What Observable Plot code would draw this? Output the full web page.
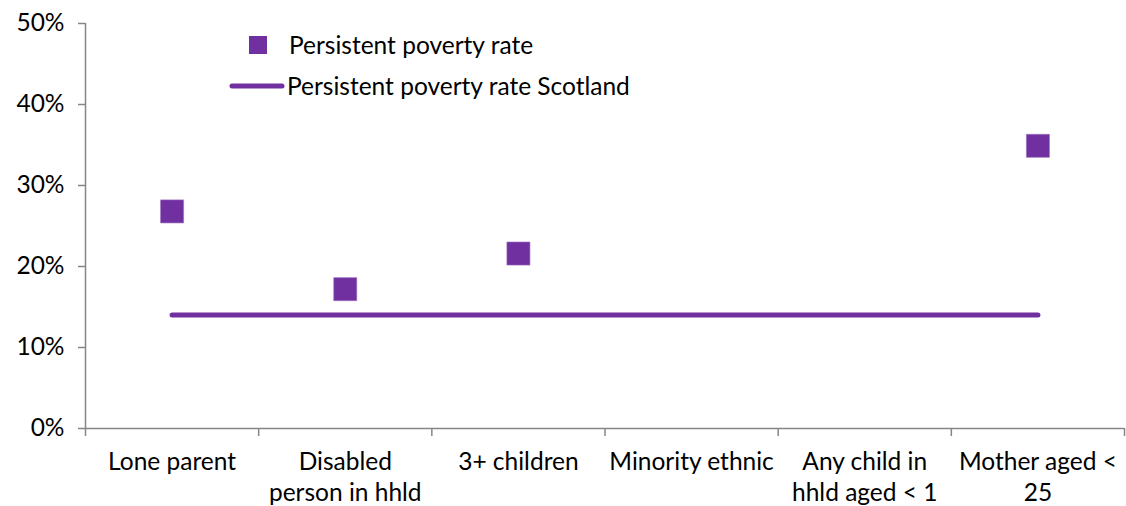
<!DOCTYPE html>
<html>
<head>
<meta charset="utf-8">
<script src="https://cdn.jsdelivr.net/npm/d3@7"></script>
<script src="https://cdn.jsdelivr.net/npm/@observablehq/plot@0.6"></script>
<style>
  html, body { margin: 0; padding: 0; background: #fff; }
  #wrap { position: relative; width: 1126px; height: 506px; font-family: Lato, "Open Sans", sans-serif; }
  #legend { position: absolute; left: 228px; top: 24px; font-size: 24.5px; color: #000; }
  .li { display: flex; align-items: center; height: 41px; }
  .li svg { display: block; }
</style>
</head>
<body>
<div id="wrap">
  <div id="legend"></div>
</div>
<script>
const categories = ["Lone parent", "Disabled\nperson in hhld", "3+ children", "Minority ethnic", "Any child in\nhhld aged < 1", "Mother aged <\n25"];
const rates = [0.268, 0.172, 0.216, null, null, 0.349];
const scotlandRate = [0.14, 0.14, 0.14, 0.14, 0.14, 0.14];
const yTicks = [0, 0.1, 0.2, 0.3, 0.4, 0.5];
const seriesNames = ["Persistent poverty rate", "Persistent poverty rate Scotland"];

const purple = "#7030A0";
const grey = "#868686";

const data = categories.map((c, i) => ({i, c, pos: i + 0.5, rate: rates[i], scot: scotlandRate[i]}));
const boundaries = d3.range(categories.length + 1);

const chart = Plot.plot({
  width: 1126,
  height: 506,
  marginLeft: 85,
  marginRight: 2,
  marginTop: 23,
  marginBottom: 78,
  style: {fontFamily: "Lato, 'Open Sans', sans-serif", fontSize: "24.5px", color: "#000", background: "#fff"},
  x: {domain: [0, categories.length], axis: null},
  y: {domain: [0, 0.5], axis: null},
  marks: [
    Plot.axisY({ticks: yTicks, tickFormat: d3.format(".0%"), tickSize: 7, tickPadding: 14, stroke: grey, strokeWidth: 1.5, color: "#000", fontSize: 24.5, label: null}),
    Plot.axisX({ticks: boundaries, tickSize: 8, tickFormat: () => "", stroke: grey, strokeWidth: 1.5, label: null}),
    Plot.axisX({ticks: data.map(d => d.pos), tickSize: 0, tickPadding: 20, tickFormat: p => categories[Math.floor(p)], lineHeight: 1.26, fontSize: 24.5, fill: "#000", label: null}),
    Plot.ruleX([0], {stroke: grey, strokeWidth: 1.5}),
    Plot.ruleY([0], {stroke: grey, strokeWidth: 1.5}),
    Plot.lineY(data, {x: "pos", y: "scot", stroke: purple, strokeWidth: 5, strokeLinecap: "round"}),
    Plot.dot(data.filter(d => d.rate != null), {x: "pos", y: "rate", symbol: "square", r: 13, fill: purple, stroke: "#9a6cc0", strokeWidth: 0.6})
  ]
});
document.getElementById("wrap").prepend(chart);

const legend = document.getElementById("legend");
legend.innerHTML = `
  <div class="li"><svg width="60" height="24"><rect x="21" y="3" width="18" height="18" fill="${purple}"/></svg><span style="margin-left:1px">${seriesNames[0]}</span></div>
  <div class="li"><svg width="60" height="24"><line x1="4" y1="12" x2="54" y2="12" stroke="${purple}" stroke-width="5" stroke-linecap="round"/></svg><span style="margin-left:-1px">${seriesNames[1]}</span></div>
`;
</script>
</body>
</html>
